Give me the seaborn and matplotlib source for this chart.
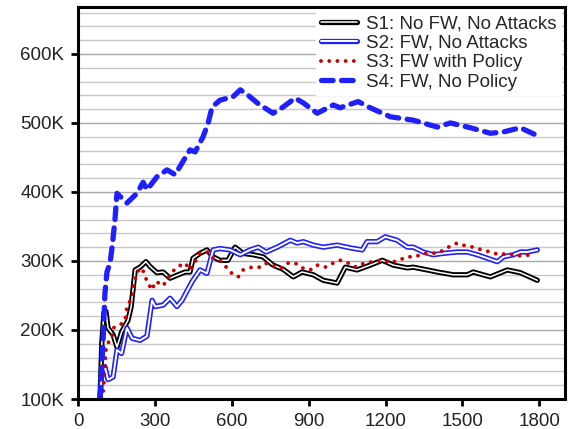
import numpy as np
import pandas as pd
import matplotlib
matplotlib.use("Agg")
import matplotlib.pyplot as plt
import seaborn as sns
from matplotlib.lines import Line2D
from matplotlib.ticker import MultipleLocator, FuncFormatter

# ---------------- data (values in thousands) ----------------
s1_x = [86, 93, 101, 109, 117, 137, 152, 170, 195, 207, 223, 242, 265, 281, 308, 332, 359, 391,
        418, 437, 449, 476, 503, 527, 554, 585, 613, 644, 684, 722, 761, 800, 840, 874, 918,
        957, 1011, 1043, 1089, 1140, 1187, 1230, 1285, 1308, 1363, 1402, 1464, 1519, 1542,
        1609, 1675, 1726, 1792]
s1_y = [100, 181, 225, 227, 203, 193, 175, 197, 214, 233, 287, 291, 299, 292, 283, 284, 275, 280,
        284, 284, 304, 311, 316, 306, 301, 301, 320, 311, 309, 306, 294, 288, 277, 284, 280,
        272, 268, 291, 287, 294, 301, 294, 290, 291, 287, 284, 280, 280, 284,
        277, 287, 283, 272]

s2_x = [86, 93, 105, 117, 137, 152, 170, 191, 211, 242, 269, 289, 301, 332, 359, 386, 406, 445,
        476, 503, 527, 554, 593, 633, 671, 703, 734, 777, 828, 855, 879, 918, 957, 1011, 1062,
        1109, 1128, 1167, 1199, 1245, 1285, 1308, 1347, 1386, 1425, 1480, 1519, 1558, 1597,
        1636, 1660, 1699, 1726, 1753, 1792]
s2_y = [100, 138, 147, 128, 132, 171, 166, 203, 188, 185, 191, 243, 234, 236, 246, 234, 243, 270,
        287, 282, 316, 318, 316, 309, 316, 320, 313, 320, 330, 326, 328, 323, 320, 323, 319,
        316, 328, 328, 335, 330, 320, 320, 313, 309, 311, 313, 313, 309, 304,
        299, 306, 309, 313, 313, 316]

s3_x = [92, 99, 105, 109, 117, 133, 137, 164, 184, 191, 211, 215, 230, 250, 262, 273, 289, 301,
        316, 332, 351, 367, 391, 418, 437, 457, 476, 508, 527, 554, 581, 605, 625, 644, 679,
        711, 737, 777, 796, 820, 847, 874, 906, 933, 964, 996, 1023, 1054, 1086, 1117, 1152,
        1187, 1218, 1250, 1285, 1316, 1347, 1382, 1413, 1445, 1480, 1511, 1542, 1577, 1609,
        1644, 1675, 1714, 1745, 1780]
s3_y = [100, 113, 147, 171, 181, 190, 203, 207, 214, 233, 248, 261, 284, 290, 277, 268, 258, 270,
        268, 264, 275, 284, 292, 297, 287, 299, 311, 313, 304, 301, 290, 280, 277, 287, 291,
        291, 297, 290, 290, 297, 297, 290, 287, 294, 291, 297, 301, 297, 291, 297, 299,
        301, 297, 301, 306, 306, 311, 311, 313, 320, 326, 322, 320, 316, 313,
        309, 311, 307, 309, 307]

s4_x = [86, 98, 105, 113, 125, 133, 144, 152, 191, 230, 254, 269, 308, 347, 379, 406, 437, 457,
        488, 508, 523, 554, 605, 633, 664, 703, 761, 800, 847, 879, 933, 996, 1023, 1093, 1140,
        1218, 1308, 1402, 1453, 1531, 1609, 1660, 1726, 1784]
s4_y = [100, 186, 253, 284, 297, 320, 359, 398, 384, 398, 414, 403, 422, 432, 425, 442, 461, 458,
        480, 500, 523, 533, 538, 548, 540, 528, 514, 523, 536, 529, 514, 526, 522, 531, 522,
        509, 504, 494, 500, 493, 485, 487, 493, 483]

labels = ["S1: No FW, No Attacks", "S2: FW, No Attacks", "S3: FW with Policy", "S4: FW, No Policy"]
x_ticks = [0, 300, 600, 900, 1200, 1500, 1800]
y_ticks = [100, 200, 300, 400, 500, 600]

# ---------------- styling ----------------
sns.set_theme(style="white")
plt.rcParams["font.family"] = ["Liberation Sans", "DejaVu Sans"]

BLUE = "#2020ff"
RED = "#cc0000"
FS = 13.5

fig = plt.figure(figsize=(5.68, 4.29), dpi=100)
ax = fig.add_axes([78 / 568, 1 - 399 / 429, (565 - 78) / 568, (399 - 7) / 429])

def frame(x, y):
    return pd.DataFrame({"x": x, "y": y})

kw = dict(x="x", y="y", ax=ax, sort=False, estimator=None, legend=False)

# S1 double black line
sns.lineplot(data=frame(s1_x, s1_y), color="black", lw=3.8, solid_joinstyle="round", **kw)
sns.lineplot(data=frame(s1_x, s1_y), color="white", lw=1.1, solid_joinstyle="round", **kw)
# S2 double blue line
sns.lineplot(data=frame(s2_x, s2_y), color=BLUE, lw=3.8, solid_joinstyle="round", **kw)
sns.lineplot(data=frame(s2_x, s2_y), color="white", lw=1.4, solid_joinstyle="round", **kw)
# S3 red dots
sns.lineplot(data=frame(s3_x, s3_y), color=RED, lw=2.8, dashes=False,
             linestyle=(0, (0.01, 2.1)), dash_capstyle="round", **kw)
# S4 thick blue dashes
sns.lineplot(data=frame(s4_x, s4_y), color=BLUE, lw=3.8, dashes=False,
             linestyle=(0, (2.2, 1.6)), dash_capstyle="round", **kw)

ax.set_xlim(0, 1900)
ax.set_ylim(100, 668)
ax.set_xticks(x_ticks)
ax.set_yticks(y_ticks)
ax.yaxis.set_minor_locator(MultipleLocator(20))
ax.yaxis.set_major_formatter(FuncFormatter(lambda v, p: f"{int(v)}K"))
ax.set_xlabel("")
ax.set_ylabel("")

ax.grid(False)
ax.yaxis.grid(True, which="major", color="#a8a8a8", lw=1.0)
ax.yaxis.grid(True, which="minor", color="#c8c8c8", lw=1.0)
ax.set_axisbelow(True)

for s in ax.spines.values():
    s.set_color("black")
    s.set_linewidth(2.2)

ax.tick_params(axis="y", which="major", direction="out", length=5, width=2,
               color="black", labelsize=FS, labelcolor="#222222", pad=5, left=True)
ax.tick_params(axis="x", which="major", direction="out", length=5, width=2,
               color="black", labelsize=FS, labelcolor="#222222", pad=5, bottom=True)
ax.tick_params(axis="y", which="minor", length=0)

handles = [
    (Line2D([], [], color="black", lw=3.8), Line2D([], [], color="white", lw=1.1)),
    (Line2D([], [], color=BLUE, lw=3.8), Line2D([], [], color="white", lw=1.4)),
    Line2D([], [], color=RED, lw=2.8, linestyle=(0, (0.01, 2.1)), dash_capstyle="round"),
    Line2D([], [], color=BLUE, lw=3.8, linestyle=(0, (2.2, 1.6)), dash_capstyle="round"),
]
leg = ax.legend(handles, labels, loc="upper right", fontsize=FS, frameon=True,
                facecolor="white", edgecolor="white", framealpha=1, fancybox=False,
                handlelength=1.9, handletextpad=0.5, labelspacing=0.12,
                borderpad=0.25, borderaxespad=0.2)

fig.savefig("out.png", dpi=100)
